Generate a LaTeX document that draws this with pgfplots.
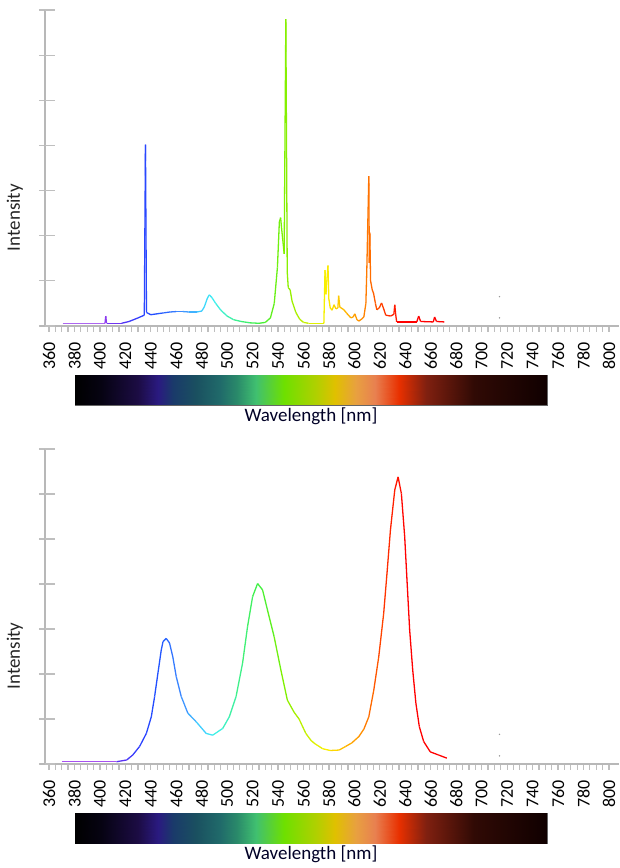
\documentclass[border=0pt]{standalone}
\usepackage{fontspec}
\setmainfont{Carlito}
\usepackage{pgfplots}
\pgfplotsset{compat=1.18}

% colour bar under each panel
\pgfplotsset{
  colormap={bar}{rgb255(380pt)=(0,0,0); rgb255(400pt)=(6,3,18); rgb255(429pt)=(28,12,68);
    rgb255(445pt)=(42,26,128); rgb255(457pt)=(26,58,106); rgb255(475pt)=(26,80,96);
    rgb255(494pt)=(32,106,106); rgb255(507pt)=(42,138,106); rgb255(522pt)=(64,192,112);
    rgb255(544pt)=(110,224,0); rgb255(569pt)=(176,208,0); rgb255(584pt)=(224,192,0);
    rgb255(600pt)=(232,160,64); rgb255(615pt)=(232,128,80); rgb255(634pt)=(232,48,0);
    rgb255(655pt)=(128,32,16); rgb255(693pt)=(48,10,5); rgb255(750pt)=(16,0,0)},
  % colours of the spectrum line
  colormap={spec}{rgb255(380pt)=(192,160,240); rgb255(400pt)=(160,64,240); rgb255(415pt)=(96,48,240);
    rgb255(430pt)=(48,64,255); rgb255(445pt)=(32,80,255); rgb255(465pt)=(64,144,255);
    rgb255(480pt)=(64,208,255); rgb255(490pt)=(64,240,240); rgb255(505pt)=(64,240,160);
    rgb255(525pt)=(64,240,64); rgb255(545pt)=(128,240,0); rgb255(560pt)=(192,240,0);
    rgb255(578pt)=(250,240,0); rgb255(590pt)=(255,192,0); rgb255(605pt)=(255,144,0);
    rgb255(613pt)=(255,106,0); rgb255(625pt)=(255,48,0); rgb255(640pt)=(255,0,0);
    rgb255(750pt)=(255,0,0)},
  specaxis/.style={
    scale only axis, width=574pt,
    xmin=356.86, xmax=807.9, ymin=0, ymax=7,
    axis lines=left,
    axis line style={-, draw=black!28, line width=1.8pt},
    x axis line style={shorten <=-5pt},
    xtick={360,380,...,800}, minor x tick num=3,
    ytick={0,...,7}, yticklabels={},
    extra y ticks={0,...,7}, extra y tick labels={},
    extra y tick style={tick align=inside, major tick length=10pt},
    tick align=outside, major tick length=6pt, minor tick length=6pt,
    tick style={draw=black!25, line width=1.2pt},
    /pgf/number format/assume math mode=true,
    xticklabel shift=10pt,
    xticklabel style={rotate=90, anchor=east, inner sep=0pt, text=black,
      font=\fontsize{18}{20}\selectfont},
    ylabel={Intensity},
    ylabel style={at={(axis description cs:-0.0383,0.343)}, anchor=south, inner sep=0pt,
      font=\fontsize{19}{22}\selectfont, text=black!85},
    point meta min=380, point meta max=750,
  },
  specline/.style={mesh, colormap name=spec, point meta=x, line width=1.3pt, line join=round},
  dots/.style={only marks, mark=*, mark size=0.5pt, draw=black!40, fill=black!40},
  cbaxis/.style={
    scale only axis, width=472pt, height=30pt,
    xmin=380, xmax=750, ymin=0, ymax=1,
    xtick=\empty, ytick=\empty,
    axis line style={draw=black!60, line width=0.4pt},
    point meta min=380, point meta max=750,
    xlabel={Wavelength [nm]},
    xlabel style={at={(axis description cs:0.5,0)}, anchor=north, yshift=-3pt,
      inner sep=0pt, font=\fontsize{19}{22}\selectfont, text=black!85!blue},
  },
}

% stops of the wavelength colour bar
\pgfplotstableread{
x y
380 0
400 0
429 0
445 0
457 0
475 0
494 0
507 0
522 0
544 0
569 0
584 0
600 0
615 0
634 0
655 0
693 0
750 0
380 1
400 1
429 1
445 1
457 1
475 1
494 1
507 1
522 1
544 1
569 1
584 1
600 1
615 1
634 1
655 1
693 1
750 1
}\cbdata

\begin{document}
\begin{tikzpicture}
\path[use as bounding box] (0pt,0pt) rectangle (619pt,868pt);

% fluorescent lamp
\begin{axis}[specaxis, at={(45pt,542pt)}, anchor=south west, height=316pt]
\addplot[specline] table {
370.7 0.06
404.0 0.06
404.6 0.22
405.2 0.06
417 0.06
423 0.10
430 0.18
434.9 0.24
435.8 4.02
436.6 0.30
440 0.25
445 0.27
450 0.29
455 0.31
460 0.32
465 0.32
470 0.31
476 0.31
480 0.33
482 0.42
484.5 0.62
486 0.69
488 0.63
491 0.50
495 0.35
500 0.22
505 0.14
511 0.10
518 0.07
525 0.06
530 0.08
534 0.18
537 0.50
539.5 1.30
541 2.30
542 2.40
543 2.10
544.8 1.60
546.1 6.80
547.2 1.20
548 0.85
549.5 0.80
551 0.55
554 0.30
557 0.15
560 0.08
564 0.06
576.0 0.06
576.9 1.24
577.6 0.70
579.2 1.34
579.9 0.60
581 0.40
582.5 0.35
583.9 0.47
585.5 0.38
587 0.40
587.6 0.67
588.5 0.42
591.7 0.36
594 0.28
597.2 0.18
599 0.20
600.3 0.27
602 0.14
603.5 0.11
606 0.16
607.4 0.20
609 0.50
609.7 1.20
611.3 3.32
611.7 1.40
612.1 2.07
612.7 1.00
614 0.80
615 0.73
616.5 0.50
617.6 0.36
619.5 0.40
621.3 0.51
623 0.38
624.6 0.24
628.5 0.22
631 0.26
631.7 0.47
632.4 0.26
633.2 0.09
649 0.09
650.5 0.22
652 0.10
662 0.09
663 0.20
664.5 0.10
670.6 0.09
};
\addplot[dots] coordinates {(714,0.65) (714,0.18)};
\end{axis}
\begin{axis}[cbaxis, at={(75pt,463pt)}, anchor=south west]
\addplot[surf, shader=interp, colormap name=bar, point meta=x, mesh/rows=2] table {\cbdata};
\end{axis}

% RGB LED
\begin{axis}[specaxis, at={(45pt,104pt)}, anchor=south west, height=315pt]
\addplot[specline] table {
370.2 0.05
413 0.05
421.1 0.09
425.8 0.20
431.2 0.39
436.5 0.68
440.4 1.05
443 1.50
445.6 2.02
448.2 2.53
449.6 2.72
452.1 2.79
454.7 2.69
457.3 2.38
460 1.94
463.9 1.50
469.1 1.13
475.6 0.94
483.5 0.68
488.6 0.64
496.5 0.79
501.7 1.05
507 1.50
512.1 2.24
516 3.05
520 3.72
523.9 4.01
527.8 3.87
531.7 3.42
536.9 2.83
542.2 2.09
547.3 1.42
552.6 1.15
556.5 1.00
561.8 0.68
566 0.52
569 0.45
575 0.34
581 0.30
588 0.31
593.1 0.39
598 0.47
603.5 0.61
607.5 0.78
611.3 1.05
615.2 1.64
619.1 2.38
623 3.35
625.6 4.24
628.3 5.20
631.7 6.09
634.3 6.38
636.9 6.01
639.5 5.05
641.3 4.09
643.4 2.98
645.8 2.09
648.3 1.35
651 0.83
654.4 0.50
659.6 0.27
666.1 0.20
672.6 0.13
};
\addplot[dots] coordinates {(714,0.66) (714,0.18)};
\end{axis}
\begin{axis}[cbaxis, at={(75pt,25pt)}, anchor=south west]
\addplot[surf, shader=interp, colormap name=bar, point meta=x, mesh/rows=2] table {\cbdata};
\end{axis}
\end{tikzpicture}
\end{document}
